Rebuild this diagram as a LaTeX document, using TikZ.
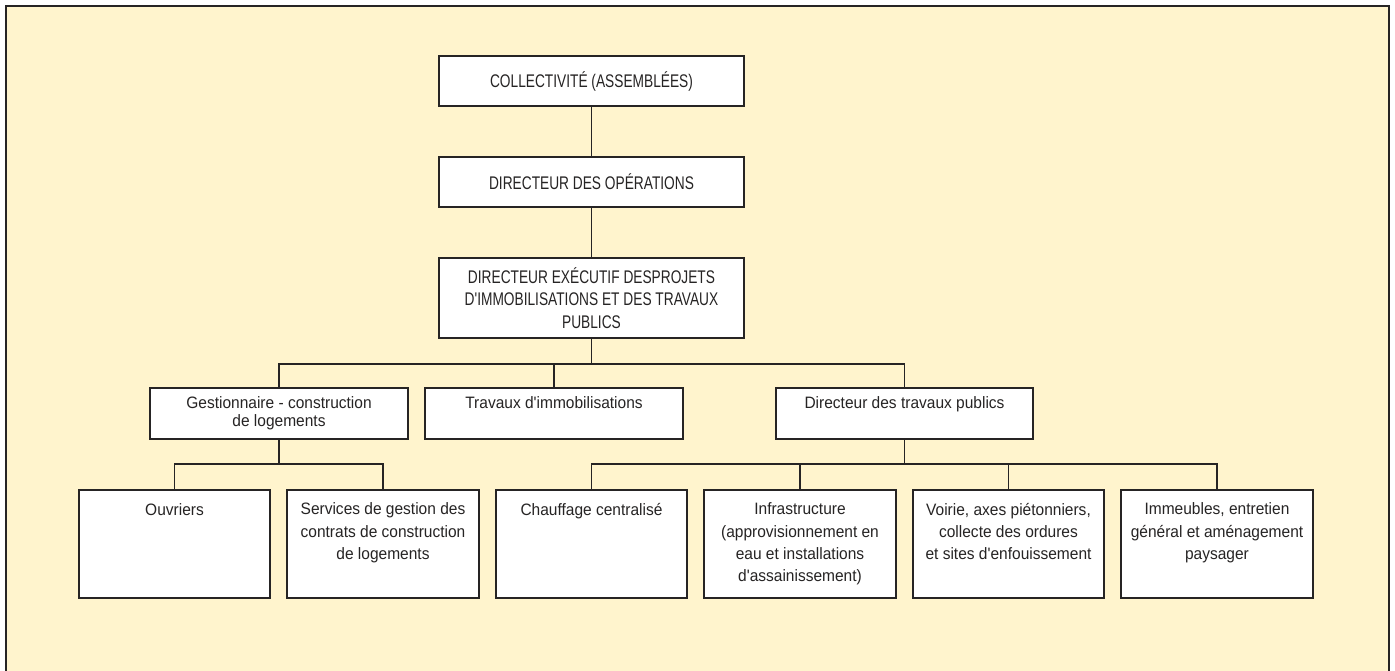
\documentclass[tikz,border=0pt]{standalone}
\usepackage{fontspec}
\setmainfont{Liberation Sans}[FakeStretch=0.94, Ligatures=TeXOff]
\newfontfamily\capsfont{Liberation Sans}[FakeStretch=0.75, Ligatures=TeXOff]
\definecolor{bgy}{HTML}{FFF4CD}
\definecolor{ink}{HTML}{262424}
\begin{document}
\begin{tikzpicture}[x=1pt,y=-1pt,
  topbox/.style={draw=ink, fill=white, line width=2pt, inner sep=0pt, outer sep=0pt,
    minimum width=305pt, minimum height=50pt, align=center, text=ink,
    font=\capsfont\fontsize{18.3}{22.5}\selectfont},
  midbox/.style={draw=ink, fill=white, line width=2pt, inner sep=0pt, outer sep=0pt,
    minimum width=258pt, minimum height=51pt},
  lowbox/.style={draw=ink, fill=white, line width=2pt, inner sep=0pt, outer sep=0pt,
    minimum width=191pt, minimum height=108pt},
  txt/.style={inner sep=0pt, outer sep=0pt, align=center, text=ink, anchor=north,
    font=\fontsize{16.5}{22.3}\selectfont, execute at begin node={\rule{0pt}{12pt}}},
  conn/.style={draw=ink, line width=1.8pt}]
\useasboundingbox (0,0) rectangle (1395,671);
\fill[bgy] (6,6) rectangle (1389,671);
\draw[ink, line width=1.5pt] (6,671) -- (6,6) -- (1389,6) -- (1389,671);

% top level
\node[topbox] (c1) at (591.5,81) {COLLECTIVITÉ (ASSEMBLÉES)};
\node[topbox] (c2) at (591.5,182) {DIRECTEUR DES OPÉRATIONS};
\node[topbox, minimum height=80pt, line width=2.6pt] (c3) at (591.5,298)
  {DIRECTEUR EXÉCUTIF DESPROJETS\\D'IMMOBILISATIONS ET DES TRAVAUX\\PUBLICS};

% second level
\node[midbox] (g) at (279,413.5) {};
\node[midbox] (t) at (554,413.5) {};
\node[midbox, minimum width=257pt] (d) at (904.5,413.5) {};
\node[txt, font=\fontsize{16.5}{18.3}\selectfont] (gt) at ([yshift=-8.3pt]g.north) {Gestionnaire - construction\\de logements};
\node[txt] (tt) at ([yshift=-8.3pt]t.north) {Travaux d'immobilisations};
\node[txt] (dt) at ([yshift=-8.3pt]d.north) {Directeur des travaux publics};

% third level
\node[lowbox] (o) at (174.5,544) {};
\node[lowbox, minimum width=192pt] (s) at (383,544) {};
\node[lowbox] (ch) at (591.5,544) {};
\node[lowbox, minimum width=192pt] (i) at (800,544) {};
\node[lowbox] (v) at (1008.5,544) {};
\node[lowbox, minimum width=192pt] (im) at (1217,544) {};
\node[txt] (ot) at ([yshift=-13pt]o.north) {Ouvriers};
\node[txt] (st) at ([yshift=-13pt]s.north) {Services de gestion des\\contrats de construction\\de logements};
\node[txt] (cht) at ([yshift=-13pt]ch.north) {Chauffage centralisé};
\node[txt] (it) at ([yshift=-13pt]i.north) {Infrastructure\\(approvisionnement en\\eau et installations\\d'assainissement)};
\node[txt] (vt) at ([yshift=-13pt]v.north) {Voirie, axes piétonniers,\\collecte des ordures\\et sites d'enfouissement};
\node[txt] (imt) at ([yshift=-13pt]im.north) {Immeubles, entretien\\général et aménagement\\paysager};

% connectors
\coordinate (b1) at (591.5,364);
\coordinate (b2) at (591.5,464);
\draw[conn] (c1.south) -- (c2.north);
\draw[conn] (c2.south) -- (c3.north);
\draw[conn] (c3.south) -- (b1);
\draw[conn] (g.north) -- (g.north |- b1) -- (d.north |- b1) -- (d.north);
\draw[conn] (t.north) -- (t.north |- b1);
\draw[conn] (g.south) -- (g.south |- b2);
\draw[conn] (o.north) -- (o.north |- b2) -- (s.north |- b2) -- (s.north);
\draw[conn] (d.south) -- (d.south |- b2);
\draw[conn] (ch.north) -- (ch.north |- b2) -- (im.north |- b2) -- (im.north);
\draw[conn] (i.north) -- (i.north |- b2);
\draw[conn] (v.north) -- (v.north |- b2);
\end{tikzpicture}
\end{document}
